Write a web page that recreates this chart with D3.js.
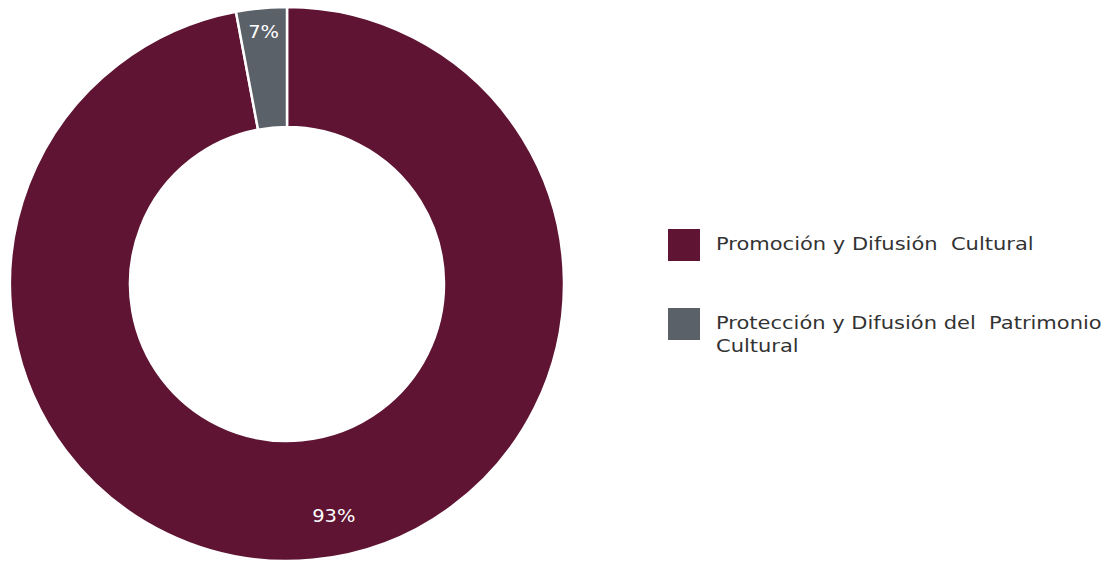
<!DOCTYPE html>
<html><head><meta charset="utf-8">
<script src="https://cdn.jsdelivr.net/npm/d3@7"></script>
<style>
html,body{margin:0;padding:0;background:#fff;}
svg{display:block;font-family:"DejaVu Sans",sans-serif;}
text{white-space:pre;}
</style></head>
<body>
<svg id="c" width="1114" height="561"></svg>
<script>
const categories = ["Promoción y Difusión  Cultural", "Protección y Difusión del  Patrimonio Cultural"];
const sliceShares = [97.05, 2.95];        // slice sizes as drawn in the picture
const labelTexts = ["93%", "7%"];         // printed labels
const labelShares = [93, 7];
const colors = ["#5e1432", "#5b6168"];
const legendLines = [["Promoción y Difusión  Cultural"], ["Protección y Difusión del  Patrimonio", "Cultural"]];

const svg = d3.select("#c");
const cx = 287, cy = 284, R = 277, r0 = 157;
const stretch = 1.2;
const g = svg.append("g").attr("transform", `translate(${cx},${cy})`);

const pie = d3.pie().sort(null).value(d => d);
const arcs = pie(sliceShares);
const arc = d3.arc().innerRadius(r0).outerRadius(R);

g.selectAll("path").data(arcs).enter().append("path")
  .attr("d", arc).attr("fill", (d, i) => colors[i])
  .attr("stroke", "#fff").attr("stroke-width", 2.5);

// labels
const labelArcs = pie(labelShares);
const pos = [
  {a: (labelArcs[0].startAngle + labelArcs[0].endAngle) / 2 + 0.02, rr: 236},
  {a: (arcs[1].startAngle + arcs[1].endAngle) / 2, rr: 253}
];
g.selectAll("text.lbl").data(labelTexts).enter().append("text")
  .attr("class", "lbl")
  .attr("x", (d, i) => pos[i].rr * Math.sin(pos[i].a))
  .attr("y", (d, i) => -pos[i].rr * Math.cos(pos[i].a))
  .attr("dy", "0.35em")
  .attr("text-anchor", "middle")
  .attr("fill", "#fff")
  .attr("font-size", 18)
  .text(d => d)
  .each(function () {
    const w = this.getComputedTextLength();
    d3.select(this).attr("textLength", w * 1.08).attr("lengthAdjust", "spacingAndGlyphs");
  });

// legend
const lg = svg.append("g");
const ly = d3.scalePoint().domain(categories).range([229, 308]);
categories.forEach((c, i) => {
  lg.append("rect").attr("x", 668).attr("y", ly(c)).attr("width", 32).attr("height", 32).attr("fill", colors[i]);
  legendLines[i].forEach((ln, j) => {
    const t = lg.append("text").attr("x", 716).attr("y", ly(c) + 21 + j * 23)
      .attr("fill", "#333").attr("font-size", 17.5).text(ln);
    const w = t.node().getComputedTextLength();
    t.attr("textLength", w * stretch).attr("lengthAdjust", "spacingAndGlyphs");
  });
});
</script>
</body></html>
